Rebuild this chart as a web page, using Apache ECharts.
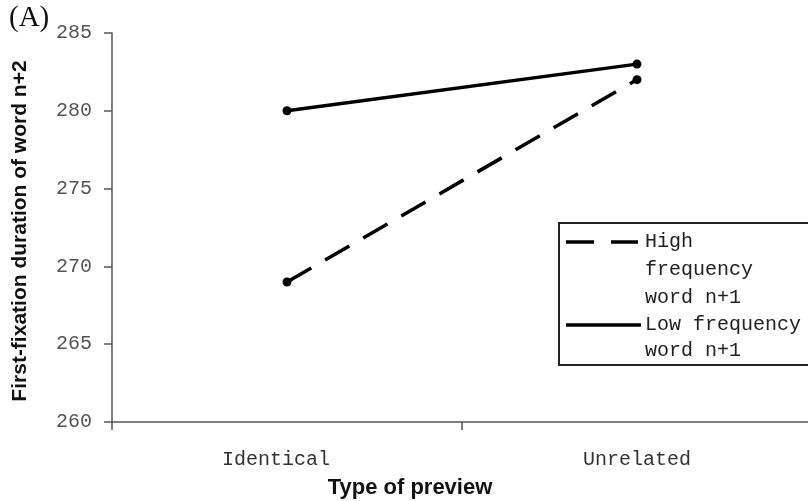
<!DOCTYPE html>
<html>
<head>
<meta charset="utf-8">
<script src="https://cdn.jsdelivr.net/npm/echarts@6/dist/echarts.min.js"></script>
<style>
  html, body { margin: 0; padding: 0; background: #fff; }
  #grafico { width: 808px; height: 501px; }
</style>
</head>
<body>
<div id="grafico"></div>
<script>
// Datos
const categorias = ['Identical', 'Unrelated'];
const altaFrecuencia = [269, 282];
const bajaFrecuencia = [280, 283];
const ticksY = [260, 265, 270, 275, 280, 285];

const fuenteMono = '"Liberation Mono", "DejaVu Sans Mono", monospace';
const fuenteTitulo = '"Liberation Sans Narrow", "Liberation Sans", Arial, sans-serif';

let grafico = echarts.init(document.getElementById('grafico'), null, { renderer: 'canvas' });

grafico.setOption({
    backgroundColor: '#fff',
    animation: false,
    // sin ajuste automático: el eje x sale del lienzo por la derecha
    grid: { left: 112, top: 33, width: 700, height: 389, outerBoundsMode: 'none', containLabel: false },
    xAxis: {
        type: 'category',
        data: categorias,
        boundaryGap: true,
        name: 'Type of preview',
        nameLocation: 'middle',
        nameGap: 55,
        // desplazado a la izquierda como en el original
        nameTextStyle: { fontFamily: fuenteTitulo, fontWeight: 'bold', fontSize: 22, color: '#111', padding: [0, 104, 0, 0] },
        axisLine: { lineStyle: { color: '#555', width: 1.5 } },
        axisTick: { show: true, length: 8, lineStyle: { color: '#555', width: 1.5 } },
        axisLabel: {
            fontFamily: fuenteMono, fontSize: 20, color: '#333', margin: 28,
            // la primera etiqueta está un poco a la izquierda en el original
            formatter: (v, i) => i === 0 ? '{a|' + v + '}' : v,
            rich: { a: { fontFamily: fuenteMono, fontSize: 20, color: '#333', padding: [0, 22, 0, 0] } }
        }
    },
    yAxis: {
        type: 'value',
        min: ticksY[0],
        max: ticksY[ticksY.length - 1],
        interval: 5,
        name: 'First-fixation duration of word n+2',
        nameLocation: 'middle',
        nameGap: 81,
        nameTextStyle: { fontFamily: fuenteTitulo, fontWeight: 'bold', fontSize: 21, color: '#111', padding: [0, 7, 0, 0] },
        axisLine: { show: true, lineStyle: { color: '#555', width: 1.5 } },
        axisTick: { show: true, length: 8, lineStyle: { color: '#555', width: 1.5 } },
        axisLabel: { fontFamily: fuenteMono, fontSize: 20, color: '#555', margin: 20 },
        splitLine: { show: false }
    },
    series: [
        {
            name: 'High frequency word n+1',
            type: 'line',
            data: altaFrecuencia,
            symbol: 'circle',
            symbolSize: 9,
            itemStyle: { color: '#000' },
            lineStyle: { color: '#000', width: 3.5, type: [28, 16] }
        },
        {
            name: 'Low frequency word n+1',
            type: 'line',
            data: bajaFrecuencia,
            symbol: 'circle',
            symbolSize: 9,
            itemStyle: { color: '#000' },
            lineStyle: { color: '#000', width: 3.5 }
        }
    ],
    graphic: [
        // Etiqueta del panel
        {
            type: 'text', left: 9, top: 4,
            style: { text: '(A)', font: '29px "Liberation Serif", serif', fill: '#111' }
        },
        // Leyenda dibujada a mano (texto en varias líneas)
        {
            type: 'rect',
            shape: { x: 559, y: 223, width: 260, height: 142 },
            style: { fill: '#fff', stroke: '#222', lineWidth: 2 }
        },
        {
            type: 'line',
            shape: { x1: 566, y1: 242, x2: 638, y2: 242 },
            style: { stroke: '#000', lineWidth: 3.5, lineDash: [28, 17] }
        },
        {
            type: 'line',
            shape: { x1: 566, y1: 325, x2: 641, y2: 325 },
            style: { stroke: '#000', lineWidth: 3.5 }
        },
        {
            type: 'text', left: 645, top: 228,
            style: {
                text: 'High\nfrequency\nword n+1',
                font: '20px ' + fuenteMono, fill: '#222',
                lineHeight: 28
            }
        },
        {
            type: 'text', left: 645, top: 312,
            style: {
                text: 'Low frequency\nword n+1',
                font: '20px ' + fuenteMono, fill: '#222',
                lineHeight: 26
            }
        }
    ]
});
</script>
</body>
</html>
